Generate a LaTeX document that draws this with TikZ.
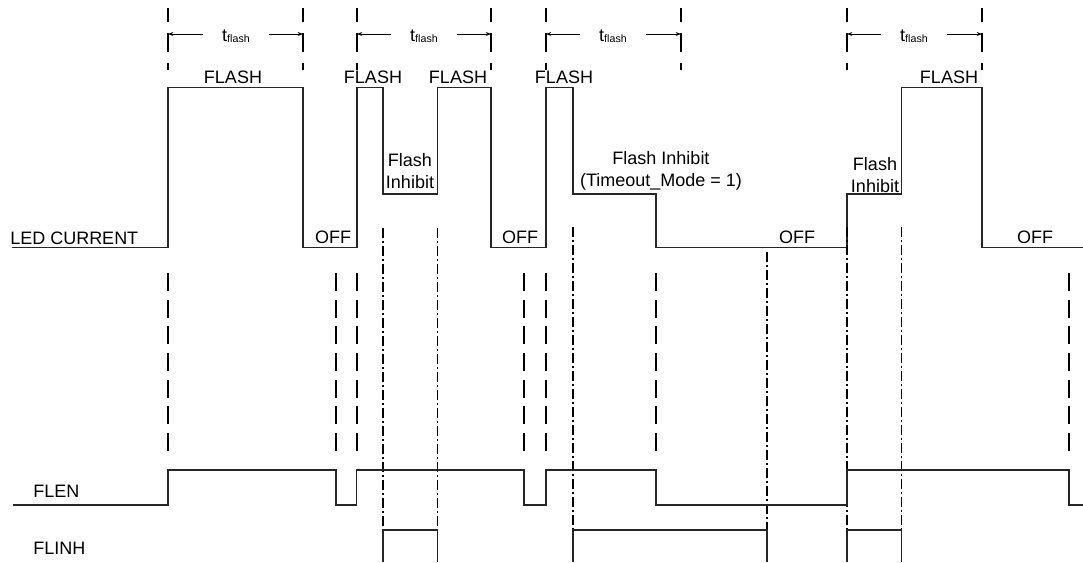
\documentclass[tikz,border=0pt]{standalone}
\usepackage{fontspec}
\setmainfont{Liberation Sans}
\usetikzlibrary{arrows.meta}

\tikzset{
  wave/.style={line width=0.8pt, black!85},
  tickline/.style={line width=1.8pt, dash pattern=on 10.5pt off 8.25pt on 14.25pt off 8.25pt},
  edgeline/.style={line width=1.8pt, dash pattern=on 13.5pt off 6.5pt},
  inhline/.style={line width=1.4pt, dash pattern=on 7.5pt off 2.5pt on 1pt off 2.5pt},
  tarrow/.style={line width=0.6pt, -{Stealth[length=4pt,width=3pt]}},
  lab/.style={font=\fontsize{13.5}{16.5}\selectfont, inner sep=0pt, align=center},
  tlab/.style={lab, minimum width=49.5pt},
}
\newcommand{\tflash}{t\raisebox{-1pt}{\fontsize{8}{8}\selectfont flash}}

\begin{document}
\begin{tikzpicture}[x=0.75pt,y=-0.75pt]
\useasboundingbox (0,0) rectangle (1083,562);

% t_flash marks at the top
\foreach \xx in {168,303,357,491,546,681,847,982}
  \draw[tickline] (\xx,8) -- (\xx,70);

\coordinate (a1) at (168,34);   \coordinate (b1) at (303,34);
\coordinate (a2) at (357,34);   \coordinate (b2) at (491,34);
\coordinate (a3) at (546,34);   \coordinate (b3) at (681,34);
\coordinate (a4) at (847,34);   \coordinate (b4) at (982,34);

\node[tlab] (tf1) at (236,36.5) {\tflash};
\node[tlab] (tf2) at (424,36.5) {\tflash};
\node[tlab] (tf3) at (613,36.5) {\tflash};
\node[tlab] (tf4) at (914,36.5) {\tflash};

\foreach \i in {1,...,4} {
  \draw[tarrow] (tf\i.west |- a\i) -- (a\i);
  \draw[tarrow] (tf\i.east |- b\i) -- (b\i);
}

% LED CURRENT
\draw[wave] (12,247.7) -- (168,247.7) -- (168,87.3) -- (303,87.3) -- (303,247.7)
  -- (357,247.7) -- (357,87.3) -- (383,87.3) -- (383,194) -- (437.5,194)
  -- (437.5,87.3) -- (491,87.3) -- (491,247.7) -- (546,247.7) -- (546,87.3)
  -- (573,87.3) -- (573,194) -- (656,194) -- (656,247.7) -- (847,247.7)
  -- (847,194) -- (901.5,194) -- (901.5,87.3) -- (982,87.3) -- (982,247.7)
  -- (1083,247.7);

\node[lab, anchor=base west] (led) at (10,244) {LED CURRENT};

\node[lab] (fl1) at (233,77) {FLASH};
\node[lab] (fl2) at (373,77) {FLASH};
\node[lab] (fl3) at (458,77) {FLASH};
\node[lab] (fl4) at (564,77) {FLASH};
\node[lab] (fl5) at (949,77) {FLASH};

\node[lab] (inh1) at (410,171) {Flash\\Inhibit};
\node[lab] (inh2) at (661,170.5) {Flash Inhibit\\(Timeout\_Mode = 1)};
\node[lab] (inh3) at (875,175.5) {Flash\\Inhibit};

\node[lab] (off1) at (333,237.3) {OFF};
\node[lab] (off2) at (520,237.3) {OFF};
\node[lab] (off3) at (797,237.3) {OFF};
\node[lab] (off4) at (1035,237.3) {OFF};

% FLEN edges
\foreach \xx in {168,336,357,524,546,656,1069}
  \draw[edgeline] (\xx,273) -- (\xx,453);

% flash inhibit edges
\foreach \xx/\ys in {383/228,437.5/228,573/227,767/252,847/227,901.5/227}
  \draw[inhline] (\xx,\ys) -- (\xx,562);

% FLEN
\draw[wave] (13,505) -- (168,505) -- (168,470) -- (336,470) -- (336,505)
  -- (356.5,505) -- (356.5,470) -- (524,470) -- (524,505) -- (546,505)
  -- (546,470) -- (656,470) -- (656,505) -- (847,505) -- (847,470)
  -- (1069,470) -- (1069,505) -- (1083,505);

\node[lab, anchor=west] (flen) at (33,491) {FLEN};

% FLINH
\draw[wave] (383,562) -- (383,530) -- (437.5,530) -- (437.5,562);
\draw[wave] (573,562) -- (573,530) -- (767,530) -- (767,562);
\draw[wave] (847,562) -- (847,530) -- (901.5,530) -- (901.5,562);

\node[lab, anchor=west] (flinh) at (33,548) {FLINH};
\end{tikzpicture}
\end{document}
